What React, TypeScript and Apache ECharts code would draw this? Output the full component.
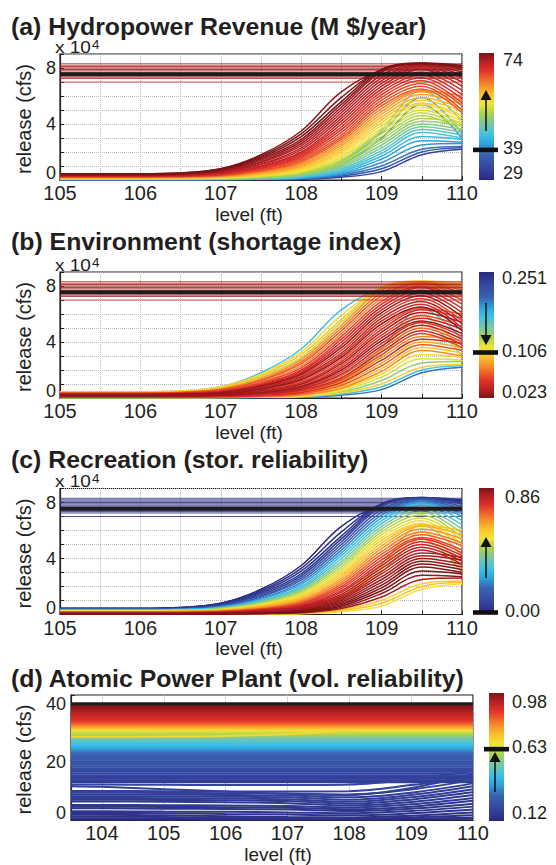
import React, { useEffect, useRef } from 'react';
import * as echarts from 'echarts';

// ---------------- data ----------------
const LEVELS = [105, 106, 106.5, 107, 107.5, 108, 108.5, 109, 109.5, 110];

// release (x 10^4 cfs) of each operating policy at LEVELS
const RELEASE_CURVES: number[][] = [
  [0.45, 0.45, 0.5, 0.8, 1.8, 3.5, 6.3, 7.6, 7.6, 7.6],
  [0.45, 0.45, 0.5, 0.8, 1.7, 3.3, 5.9, 7.9, 8.3, 8.1],
  [0.4, 0.4, 0.45, 0.75, 1.6, 3.1, 5.6, 7.9, 8.35, 8.2],
  [0.4, 0.4, 0.45, 0.7, 1.5, 2.9, 5.4, 7.8, 8.35, 8.0],
  [0.4, 0.4, 0.4, 0.65, 1.4, 2.75, 5.2, 7.7, 8.3, 7.9],
  [0.35, 0.35, 0.4, 0.6, 1.3, 2.6, 5.0, 7.5, 8.25, 7.7],
  [0.35, 0.35, 0.4, 0.6, 1.25, 2.45, 4.8, 7.3, 8.2, 7.5],
  [0.35, 0.35, 0.35, 0.55, 1.15, 2.3, 4.6, 7.1, 8.1, 7.3],
  [0.3, 0.3, 0.35, 0.5, 1.1, 2.15, 4.4, 6.9, 8.0, 7.0],
  [0.3, 0.3, 0.35, 0.5, 1.0, 2.0, 4.2, 6.7, 7.9, 6.7],
  [0.3, 0.3, 0.3, 0.45, 0.95, 1.9, 4.0, 6.5, 7.7, 6.4],
  [0.3, 0.3, 0.3, 0.45, 0.9, 1.8, 3.8, 6.3, 7.5, 6.1],
  [0.25, 0.25, 0.3, 0.4, 0.85, 1.7, 3.6, 6.1, 7.3, 5.8],
  [0.25, 0.25, 0.3, 0.4, 0.8, 1.6, 3.4, 5.9, 7.1, 5.5],
  [0.25, 0.25, 0.25, 0.35, 0.75, 1.5, 3.2, 5.7, 6.9, 5.3],
  [0.25, 0.25, 0.25, 0.35, 0.7, 1.4, 3.05, 5.5, 6.7, 5.0],
  [0.2, 0.2, 0.25, 0.3, 0.65, 1.3, 2.9, 5.3, 6.5, 4.8],
  [0.2, 0.2, 0.2, 0.3, 0.6, 1.2, 2.75, 5.1, 6.4, 6.0],
  [0.2, 0.2, 0.2, 0.3, 0.55, 1.1, 2.6, 4.9, 6.3, 5.7],
  [0.2, 0.2, 0.2, 0.25, 0.5, 1.0, 2.45, 4.7, 6.1, 5.4],
  [0.15, 0.15, 0.2, 0.25, 0.45, 0.95, 2.3, 4.5, 5.9, 5.1],
  [0.15, 0.15, 0.15, 0.2, 0.4, 0.85, 2.15, 4.3, 5.7, 4.9],
  [0.15, 0.15, 0.15, 0.2, 0.38, 0.8, 2.0, 4.1, 5.5, 4.6],
  [0.15, 0.15, 0.15, 0.2, 0.35, 0.72, 1.85, 3.9, 5.4, 4.4],
  [0.12, 0.12, 0.12, 0.18, 0.32, 0.65, 1.7, 3.7, 5.2, 4.2],
  [0.12, 0.12, 0.12, 0.15, 0.3, 0.6, 1.6, 3.5, 5.0, 4.0],
  [0.1, 0.1, 0.1, 0.14, 0.26, 0.55, 1.45, 3.3, 4.8, 3.8],
  [0.1, 0.1, 0.1, 0.12, 0.23, 0.5, 1.3, 3.1, 4.6, 3.6],
  [0.08, 0.08, 0.08, 0.1, 0.2, 0.45, 1.2, 2.9, 4.4, 4.1],
  [0.08, 0.08, 0.08, 0.1, 0.18, 0.4, 1.1, 2.7, 4.2, 3.9],
  [0.06, 0.06, 0.06, 0.08, 0.15, 0.35, 1.0, 2.5, 4.0, 3.6],
  [0.06, 0.06, 0.06, 0.08, 0.13, 0.3, 0.9, 2.3, 3.8, 3.4],
  [0.05, 0.05, 0.05, 0.07, 0.11, 0.26, 0.8, 2.1, 3.6, 3.2],
  [0.05, 0.05, 0.05, 0.06, 0.1, 0.22, 0.7, 1.9, 3.4, 3.0],
  [0.04, 0.04, 0.04, 0.05, 0.08, 0.18, 0.6, 1.7, 3.1, 2.9],
  [0.03, 0.03, 0.03, 0.04, 0.07, 0.15, 0.5, 1.5, 2.8, 2.7],
  [0.03, 0.03, 0.03, 0.04, 0.06, 0.12, 0.42, 1.25, 2.5, 2.6],
  [0.02, 0.02, 0.02, 0.03, 0.05, 0.1, 0.35, 1.0, 2.2, 2.4],
  [0.02, 0.02, 0.02, 0.03, 0.04, 0.08, 0.28, 0.8, 2.0, 2.3],
  [0.01, 0.01, 0.01, 0.02, 0.03, 0.06, 0.2, 0.6, 1.8, 2.2],
  [0.1, 0.1, 0.1, 0.12, 0.22, 0.5, 1.4, 3.6, 6.4, 4.2],
  [0.08, 0.08, 0.08, 0.1, 0.2, 0.45, 1.3, 3.4, 5.9, 3.3],
  [0.06, 0.06, 0.06, 0.08, 0.16, 0.38, 1.1, 3.0, 5.4, 3.0],
];
const HYDRO_REVENUE = [73, 74, 74, 73, 72, 72, 71, 71, 70, 70, 69, 68, 68, 67, 66, 66, 65, 63, 62, 61, 60, 59, 58, 57, 56, 55, 54, 53, 52, 51, 50, 49, 47, 46, 44, 42, 41, 39, 36, 33, 47, 42, 40];
const SHORTAGE_INDEX = [0.17, 0.11, 0.1, 0.125, 0.085, 0.075, 0.065, 0.08, 0.06, 0.055, 0.05, 0.045, 0.03, 0.06, 0.04, 0.05, 0.028, 0.065, 0.05, 0.035, 0.06, 0.045, 0.03, 0.055, 0.04, 0.07, 0.048, 0.06, 0.08, 0.05, 0.09, 0.065, 0.1, 0.08, 0.11, 0.12, 0.14, 0.105, 0.17, 0.2, 0.16, 0.1, 0.13];
const STOR_RELIABILITY = [0.0, 0.02, 0.03, 0.05, 0.08, 0.12, 0.16, 0.2, 0.25, 0.3, 0.34, 0.38, 0.42, 0.46, 0.49, 0.52, 0.55, 0.58, 0.6, 0.63, 0.66, 0.69, 0.72, 0.74, 0.76, 0.78, 0.8, 0.81, 0.8, 0.82, 0.83, 0.84, 0.85, 0.85, 0.86, 0.84, 0.82, 0.55, 0.58, 0.52, 0.45, 0.55, 0.6];

// constant-release policies
const FLAT_RELEASE = [8.3, 8.2, 8.1, 8.0, 7.9, 7.8, 7.7, 7.45, 7.35, 7.25, 7.0];
const FLAT_HYDRO = [71, 70, 72, 71, 73, 72, 73, 72, 71, 70, 69];
const FLAT_SHORTAGE = [0.035, 0.04, 0.03, 0.045, 0.03, 0.035, 0.028, 0.03, 0.04, 0.035, 0.05];
const FLAT_STOR = [0.02, 0.03, 0.0, 0.01, 0.0, 0.02, 0.0, 0.0, 0.01, 0.02, 0.04];
const CURRENT_RELEASE = 7.55;

// panel (d)
const LEVELS_D = [103.5, 104, 105, 106, 107, 108, 109, 110];
const D_FLAT_RELEASE = [39.7, 39.2, 38.7, 38.2, 37.7, 37.2, 36.7, 36.2, 35.7, 35.2, 34.7, 34.2, 33.7, 33.2, 32.7, 32.2, 31.7, 31.2, 30.7, 30.2, 29.7, 29.2, 28.7, 28.2, 27.7, 27.2, 26.7, 26.2, 25.7, 25.2, 24.7, 24.2, 23.7, 23.2, 22.6, 22.0, 21.4, 20.8, 20.2, 19.6, 19.0, 18.4, 17.8, 17.2, 16.6, 16.0, 15.4, 14.8, 14.2, 13.6, 13.0];
const D_FLAT_VOL = [0.98, 0.97, 0.96, 0.95, 0.94, 0.92, 0.91, 0.9, 0.89, 0.88, 0.87, 0.85, 0.83, 0.81, 0.78, 0.75, 0.71, 0.67, 0.63, 0.6, 0.58, 0.55, 0.52, 0.5, 0.48, 0.46, 0.44, 0.42, 0.41, 0.39, 0.37, 0.35, 0.32, 0.3, 0.29, 0.28, 0.27, 0.26, 0.25, 0.25, 0.24, 0.23, 0.22, 0.22, 0.21, 0.2, 0.2, 0.19, 0.19, 0.18, 0.18];
const D_CURVES: number[][] = [
  [12.2, 12.2, 12.1, 12.0, 12.0, 12.2, 14.0, 17.0],
  [11.6, 11.4, 10.6, 9.8, 9.0, 8.6, 11.0, 15.8],
  [10.0, 10.0, 9.9, 9.8, 9.8, 9.9, 12.0, 15.0],
  [9.4, 9.4, 9.3, 9.2, 9.1, 8.8, 10.5, 13.8],
  [8.8, 8.8, 8.7, 8.6, 8.4, 7.8, 9.4, 12.6],
  [8.2, 8.2, 8.1, 8.0, 7.8, 7.0, 8.6, 11.6],
  [7.6, 7.6, 7.5, 7.4, 7.1, 6.3, 7.8, 10.6],
  [7.0, 7.0, 6.9, 6.8, 6.5, 5.6, 7.0, 9.6],
  [6.4, 6.4, 6.3, 6.1, 5.8, 5.0, 6.2, 8.6],
  [5.2, 5.2, 5.1, 5.0, 4.8, 4.3, 5.4, 7.6],
  [4.6, 4.6, 4.5, 4.4, 4.2, 3.7, 4.6, 6.6],
  [4.0, 4.0, 3.9, 3.8, 3.6, 3.1, 3.9, 5.6],
  [3.0, 3.0, 2.9, 2.8, 2.6, 2.3, 3.1, 4.6],
  [2.4, 2.4, 2.3, 2.1, 1.9, 1.6, 2.3, 3.6],
  [1.8, 1.8, 1.6, 1.3, 1.0, 0.9, 1.5, 2.6],
  [1.2, 1.2, 1.0, 0.8, 0.6, 0.6, 0.9, 1.6],
  [0.6, 0.6, 0.5, 0.4, 0.4, 0.4, 0.5, 0.8],
  [0.2, 0.2, 0.2, 0.2, 0.2, 0.2, 0.3, 0.4],
  [28.6, 28.6, 28.7, 28.9, 29.5, 30.8, 31.8, 32.0],
  [30.0, 30.0, 30.1, 30.3, 30.6, 31.2, 31.5, 31.5],
];
const D_CURVES_VOL = [0.2, 0.19, 0.19, 0.19, 0.18, 0.18, 0.18, 0.17, 0.17, 0.17, 0.16, 0.16, 0.16, 0.15, 0.15, 0.15, 0.14, 0.13, 0.66, 0.6];
const D_CURRENT = 40;

// ticks
const X_TICKS_ABC = [105, 106, 107, 108, 109, 110];
const Y_TICKS_ABC = [0, 4, 8];
const X_TICKS_D = [104, 105, 106, 107, 108, 109, 110];
const Y_TICKS_D = [0, 20, 40];

// colorbars
const CB_A = { min: 29, max: 74, ticks: [74, 39, 29], digits: 0, marker: 39 };
const CB_B = { min: 0.023, max: 0.251, ticks: [0.251, 0.106, 0.023], digits: 3, marker: 0.106 };
const CB_C = { min: 0, max: 0.86, ticks: [0.86, 0.0], digits: 2, marker: 0.0 };
const CB_D = { min: 0.12, max: 0.98, ticks: [0.98, 0.63, 0.12], digits: 2, marker: 0.63 };

// ---------------- style ----------------
const FONT = "'Liberation Sans', Arial, Helvetica, sans-serif";
const INK = '#231f20';
const JET: [number, string][] = [
  [0, '#29297f'], [0.1, '#3447a0'], [0.2, '#3a62b0'], [0.28, '#2f9fd9'], [0.35, '#3cc0e8'],
  [0.44, '#78c7a6'], [0.52, '#a9d34e'], [0.6, '#f1e43a'], [0.68, '#fcbd2c'], [0.76, '#f4832a'],
  [0.86, '#e2312a'], [0.94, '#b21f23'], [1, '#7a1417'],
];

function hexToRgb(h: string) {
  const n = parseInt(h.slice(1), 16);
  return [(n >> 16) & 255, (n >> 8) & 255, n & 255];
}
function cmap(f: number) {
  const t = Math.max(0, Math.min(1, f));
  for (let i = 1; i < JET.length; i++) {
    if (t <= JET[i][0]) {
      const [o0, c0] = JET[i - 1];
      const [o1, c1] = JET[i];
      const u = (t - o0) / (o1 - o0 || 1);
      const a = hexToRgb(c0), b = hexToRgb(c1);
      const r = a.map((v, k) => Math.round(v + (b[k] - v) * u));
      return `rgb(${r[0]},${r[1]},${r[2]})`;
    }
  }
  return JET[JET.length - 1][1];
}

const GEOM = [
  { left: 60, top: 54, width: 402, height: 126, titleY: 26.7, cb: { x: 479, y: 53, w: 15, h: 127, insT: 7, insB: 7, lx: 503, mx: 473 }, arrow: { x: 486, tail: 131, tip: 90 } },
  { left: 60, top: 272, width: 402, height: 126, titleY: 241.5, cb: { x: 479, y: 272, w: 15, h: 126, insT: 6, insB: 6, lx: 502, mx: 473 }, arrow: { x: 486, tail: 303, tip: 345 } },
  { left: 60, top: 488.5, width: 402, height: 126, titleY: 459.5, cb: { x: 479, y: 488, w: 15, h: 125.5, insT: 9, insB: 3, lx: 505, mx: 473 }, arrow: { x: 486, tail: 578, tip: 537 } },
  { left: 71, top: 695, width: 402, height: 125, titleY: 679, cb: { x: 489, y: 693, w: 15, h: 128, insT: 9, insB: 8, lx: 512, mx: 484 }, arrow: { x: 495, tail: 792, tip: 752 } },
];
const TITLES = [
  '(a) Hydropower Revenue (M $/year)',
  '(b) Environment (shortage index)',
  '(c) Recreation (stor. reliability)',
  '(d) Atomic Power Plant (vol. reliability)',
];

function lineSeries(idx: number, data: number[][], color: string, width: number, opacity = 1, z = 2) {
  return {
    type: 'line', xAxisIndex: idx, yAxisIndex: idx, data, symbol: 'none', showSymbol: false,
    smooth: 0.35, silent: true, z, lineStyle: { color, width, opacity }, emphasis: { disabled: true },
  };
}

function panelABC(idx: number, values: number[], flatValues: number[], cb: any, reverse: boolean, higherBetter: boolean) {
  const colorOf = (v: number) => {
    const f = (v - cb.min) / (cb.max - cb.min);
    return cmap(reverse ? 1 - f : f);
  };
  const items: any[] = [];
  RELEASE_CURVES.forEach((ys, i) => items.push({ data: LEVELS.map((x, j) => [x, ys[j]]), v: values[i], w: 1.5, op: 1 }));
  const x0 = LEVELS[0], x1 = LEVELS[LEVELS.length - 1];
  FLAT_RELEASE.forEach((y, i) => items.push({ data: [[x0, y], [x1, y]], v: flatValues[i], w: 1.1, op: 0.8 }));
  items.sort((p, q) => (higherBetter ? p.v - q.v : q.v - p.v));
  const s = items.map((it) => lineSeries(idx, it.data, colorOf(it.v), it.w, it.op));
  s.push(lineSeries(idx, [[x0, CURRENT_RELEASE], [x1, CURRENT_RELEASE]], '#1d1b1c', 4, 1, 4));
  return s;
}

function panelD(idx: number) {
  const colorOf = (v: number) => cmap((v - CB_D.min) / (CB_D.max - CB_D.min));
  const items: any[] = [];
  const x0 = LEVELS_D[0], x1 = LEVELS_D[LEVELS_D.length - 1];
  D_FLAT_RELEASE.forEach((y, i) => items.push({ data: [[x0, y], [x1, y]], v: D_FLAT_VOL[i], w: 2.2 }));
  D_CURVES.forEach((ys, i) => items.push({ data: LEVELS_D.map((x, j) => [x, ys[j]]), v: D_CURVES_VOL[i], w: 2 }));
  items.sort((p, q) => p.v - q.v);
  const s: any[] = [{
    type: 'line', xAxisIndex: idx, yAxisIndex: idx, data: [], silent: true, z: 1,
    markLine: {
      silent: true, symbol: 'none', label: { show: false }, z: 1, animation: false,
      lineStyle: { color: '#b0b0b0', type: 'dotted', width: 1 },
      emphasis: { disabled: true },
      data: X_TICKS_D.map((x) => ({ xAxis: x })),
    },
  }];
  items.forEach((it) => s.push(lineSeries(idx, it.data, colorOf(it.v), it.w)));
  s.push(lineSeries(idx, [[x0, D_CURRENT], [x1, D_CURRENT]], '#1d1b1c', 3, 1, 4));
  return s;
}

function colorbar(g: any, cb: any, reverse: boolean, arrow: any) {
  const els: any[] = [];
  const stops = JET.map(([o, c]) => ({ offset: o, color: c }));
  els.push({
    type: 'rect', shape: { x: g.x, y: g.y, width: g.w, height: g.h }, silent: true,
    style: { fill: reverse ? new echarts.graphic.LinearGradient(0, 0, 0, 1, stops) : new echarts.graphic.LinearGradient(0, 1, 0, 0, stops) },
  });
  const yTop = g.y + g.insT, yBot = g.y + g.h - g.insB;
  const yOf = (v: number) => yTop + ((cb.max - v) / (cb.max - cb.min)) * (yBot - yTop);
  cb.ticks.forEach((t: number) => {
    els.push({
      type: 'text', x: g.lx, y: yOf(t), silent: true,
      style: { text: t.toFixed(cb.digits), fill: INK, fontSize: 18, fontFamily: FONT, align: 'left', verticalAlign: 'middle', textAlign: 'left', textVerticalAlign: 'middle' },
    });
  });
  const my = Math.min(yOf(cb.marker) + 2, g.y + g.h);
  els.push({ type: 'rect', silent: true, shape: { x: g.mx, y: my - 2.3, width: 25, height: 4.6 }, style: { fill: '#111' } });
  const dir = arrow.tip < arrow.tail ? 1 : -1;
  els.push({ type: 'line', silent: true, shape: { x1: arrow.x, y1: arrow.tail, x2: arrow.x, y2: arrow.tip + dir * 8 }, style: { stroke: '#111', lineWidth: 1.5 } });
  els.push({
    type: 'polygon', silent: true,
    shape: { points: [[arrow.x, arrow.tip], [arrow.x - 5.5, arrow.tip + dir * 10], [arrow.x + 5.5, arrow.tip + dir * 10]] },
    style: { fill: '#111' },
  });
  return els;
}

function textEl(text: string, x: number, y: number, size: number, opts: any = {}) {
  return {
    type: 'text', x, y, silent: true, rotation: opts.rotation || 0, scaleX: opts.scaleX || 1,
    style: {
      text, fill: INK, fontSize: size, fontFamily: FONT, fontWeight: opts.bold ? 'bold' : 'normal',
      align: opts.align || 'left', verticalAlign: 'middle', textAlign: opts.align || 'left', textVerticalAlign: 'middle',
      rich: opts.rich,
    },
  };
}

function yFormatter(ticks: number[]) {
  return (v: number) => (v === 0 ? '{lo|0}' : ticks.includes(v) ? String(v) : '');
}

function buildOption() {
  const grids = GEOM.map((g) => ({
    left: g.left, top: g.top, width: g.width, height: g.height, show: true,
    borderColor: INK, borderWidth: 1.2, backgroundColor: 'rgba(0,0,0,0)', containLabel: false,
  }));
  const axisLineStyle = { show: true, lineStyle: { color: INK, width: 1.2 } };
  const tick = { show: true, inside: true, length: 4, lineStyle: { color: INK, width: 1 } };
  const dotted = { show: true, lineStyle: { color: '#b8b8b8', type: 'dotted', width: 1 } };
  const loRich = { lo: { fontSize: 18, fontFamily: FONT, color: INK, padding: [0, 0, 14, 0] } };
  const xAxis: any[] = [];
  const yAxis: any[] = [];
  for (let i = 0; i < 3; i++) {
    xAxis.push({
      type: 'value', gridIndex: i, min: 105, max: 110, interval: 0.5,
      axisLine: axisLineStyle, axisTick: tick, splitLine: dotted,
      axisLabel: { fontSize: 20, color: INK, fontFamily: FONT, margin: 3, formatter: (v: number) => (X_TICKS_ABC.includes(v) ? String(v) : '') },
    });
    yAxis.push({
      type: 'value', gridIndex: i, min: 0, max: 9, interval: 1,
      axisLine: axisLineStyle, axisTick: tick, splitLine: dotted,
      axisLabel: { fontSize: 18, color: INK, fontFamily: FONT, margin: 4, formatter: yFormatter(Y_TICKS_ABC), rich: loRich },
    });
  }
  xAxis.push({
    type: 'value', gridIndex: 3, min: 103.5, max: 110, interval: 0.5,
    axisLine: axisLineStyle, axisTick: { ...tick, show: false }, splitLine: { show: false },
    axisLabel: { fontSize: 20, color: INK, fontFamily: FONT, margin: 3, formatter: (v: number) => (X_TICKS_D.includes(v) ? String(v) : '') },
  });
  yAxis.push({
    type: 'value', gridIndex: 3, min: 0, max: 43, interval: 20,
    axisLine: axisLineStyle, axisTick: tick, splitLine: { show: false },
    axisLabel: { fontSize: 18, color: INK, fontFamily: FONT, margin: 5, formatter: yFormatter(Y_TICKS_D), rich: loRich },
  });

  const series: any[] = [
    ...panelABC(0, HYDRO_REVENUE, FLAT_HYDRO, CB_A, false, true),
    ...panelABC(1, SHORTAGE_INDEX, FLAT_SHORTAGE, CB_B, true, false),
    ...panelABC(2, STOR_RELIABILITY, FLAT_STOR, CB_C, false, true),
    ...panelD(3),
  ];

  const graphic: any[] = [];
  GEOM.forEach((g, i) => {
    graphic.push(textEl(TITLES[i], 11, g.titleY, 23, { bold: true, scaleX: 1.08 }));
    graphic.push(textEl('release (cfs)', 24, g.top + g.height / 2 + 2, 20, { rotation: Math.PI / 2, align: 'center' }));
    graphic.push(textEl('level (ft)', i < 3 ? 249 : 278, g.top + g.height + 34, 19, { align: 'center' }));
    if (i < 3) {
      graphic.push(textEl('x 10{s|4}', 55, g.top - 7, 17, {
        scaleX: 1.12,
        rich: { s: { fontSize: 12, fontFamily: FONT, color: INK, verticalAlign: 'top', padding: [0, 0, 0, 1] } },
      }));
    }
  });
  graphic.push(...colorbar(GEOM[0].cb, CB_A, false, GEOM[0].arrow));
  graphic.push(...colorbar(GEOM[1].cb, CB_B, true, GEOM[1].arrow));
  graphic.push(...colorbar(GEOM[2].cb, CB_C, false, GEOM[2].arrow));
  graphic.push(...colorbar(GEOM[3].cb, CB_D, false, GEOM[3].arrow));

  return {
    animation: false,
    backgroundColor: '#ffffff',
    grid: grids,
    xAxis,
    yAxis,
    series,
    graphic: { elements: graphic },
  };
}

export default function App() {
  const ref = useRef<HTMLDivElement>(null);
  useEffect(() => {
    const chart = echarts.init(ref.current as HTMLDivElement, undefined, { renderer: 'svg' });
    chart.setOption(buildOption() as any);
    return () => chart.dispose();
  }, []);
  return <div ref={ref} style={{ position: 'absolute', left: 0, top: 0, width: 556, height: 865, background: '#fff' }} />;
}
